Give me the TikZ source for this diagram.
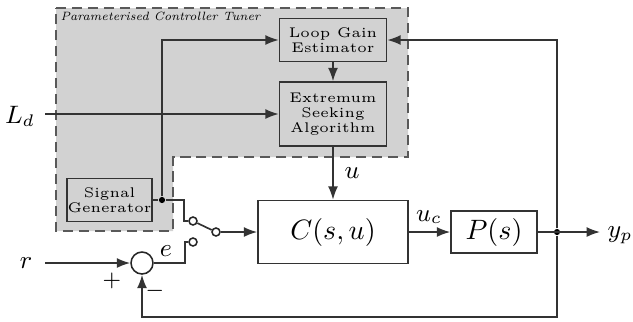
\documentclass[tikz,border=0pt]{standalone}
\usetikzlibrary{arrows.meta}
\def\pxu{0.357pt}
\tikzset{
  blk/.style={draw=black!80, line width=0.55pt, rectangle, inner sep=0pt, align=center, font=\fontsize{5}{5.4}\selectfont},
  wire/.style={line width=0.6pt, draw=black!80},
  arr/.style={wire, -{Latex[length=4.8pt,width=3.6pt]}},
  dotnode/.style={circle, fill=black, inner sep=0pt, minimum size=2.2pt},
  swc/.style={circle, draw=black!85, fill=white, line width=0.55pt, inner sep=0pt, minimum size=8*\pxu},
  sumc/.style={circle, draw=black!85, fill=white, line width=0.55pt, inner sep=0pt, minimum size=22*\pxu},
  lbl/.style={font=\small, inner sep=0pt},
  region/.style={draw=black!65, line width=0.9pt, dash pattern=on 3.6pt off 2.1pt}
}
\begin{document}
\begin{tikzpicture}[x=0.357pt, y=-0.357pt]
\useasboundingbox (0,0) rectangle (633,321);
% shaded region
\fill[gray!35] (56,8) -- (408,8) -- (408,157) -- (173,157) -- (173,231) -- (56,231) -- cycle;
\draw[region] (56,8) -- (408,8) -- (408,157) -- (173,157) -- (173,231) -- (56,231) -- cycle;
\node[anchor=west, font=\fontsize{4.3}{5}\selectfont\itshape, inner sep=0pt] (title) at (60,16.5) {Parameterised Controller Tuner};
% blocks
\node[blk, minimum width=107*\pxu, minimum height=43*\pxu] (lge) at (333,40) {Loop Gain\\Estimator};
\node[blk, minimum width=107*\pxu, minimum height=64*\pxu] (esa) at (333,114) {Extremum\\Seeking\\Algorithm};
\node[blk, minimum width=85*\pxu, minimum height=43*\pxu] (sg) at (109.5,200) {Signal\\Generator};
\node[blk, font=\normalsize, fill=white, minimum width=150*\pxu, minimum height=63*\pxu] (c) at (333,232) {$C(s,u)$};
\node[blk, font=\normalsize, fill=white, minimum width=86*\pxu, minimum height=42*\pxu] (p) at (494,232) {$P(s)$};
\node[sumc] (sum) at (142,263) {};
\node[swc] (s1) at (193,221) {};
\node[swc] (s2) at (216,232) {};
\node[swc] (s3) at (193,242) {};
\node[dotnode] (d1) at (162,200) {};
\node[dotnode] (d2) at (557,232) {};
% labels
\node[lbl] (ld) at (20,116) {$L_d$};
\node[lbl] (r) at (26,263) {$r$};
\node[lbl] (e) at (166,251) {$e$};
\node[lbl] (u) at (352,173) {$u$};
\node[lbl] (uc) at (429,217) {$u_c$};
\node[lbl] (yp) at (620,235) {$y_p$};
\node[font=\footnotesize, inner sep=0pt] (plus) at (112,281) {$+$};
\node[font=\footnotesize, inner sep=0pt] (minus) at (155,291) {$-$};
\coordinate (ldin) at (45,114);
\coordinate (rin) at (45,263);
\coordinate (yout) at (600,232);
\coordinate (fb) at (557,317);
% connectors
\draw[arr] (ldin) -- (esa.west);
\draw[arr] (lge) -- (esa);
\draw[arr] (esa) -- (c);
\draw[wire] (sg.east) -- (d1) -- ++(22,0) |- (s1.west);
\draw[arr] (d1) |- (lge.west);
\draw[wire] (s1) -- (s2);
\draw[arr] (s2) -- (c.west);
\draw[arr] (rin) -- (sum.west);
\draw[wire] (sum.east) -- ++(31,0) |- (s3.west);
\draw[arr] (c.east) -- (p.west);
\draw[arr] (p.east) -- (yout);
\draw[arr] (d2) |- (lge.east);
\draw[arr] (d2) -- (fb) -| (sum.south);
\end{tikzpicture}
\end{document}
